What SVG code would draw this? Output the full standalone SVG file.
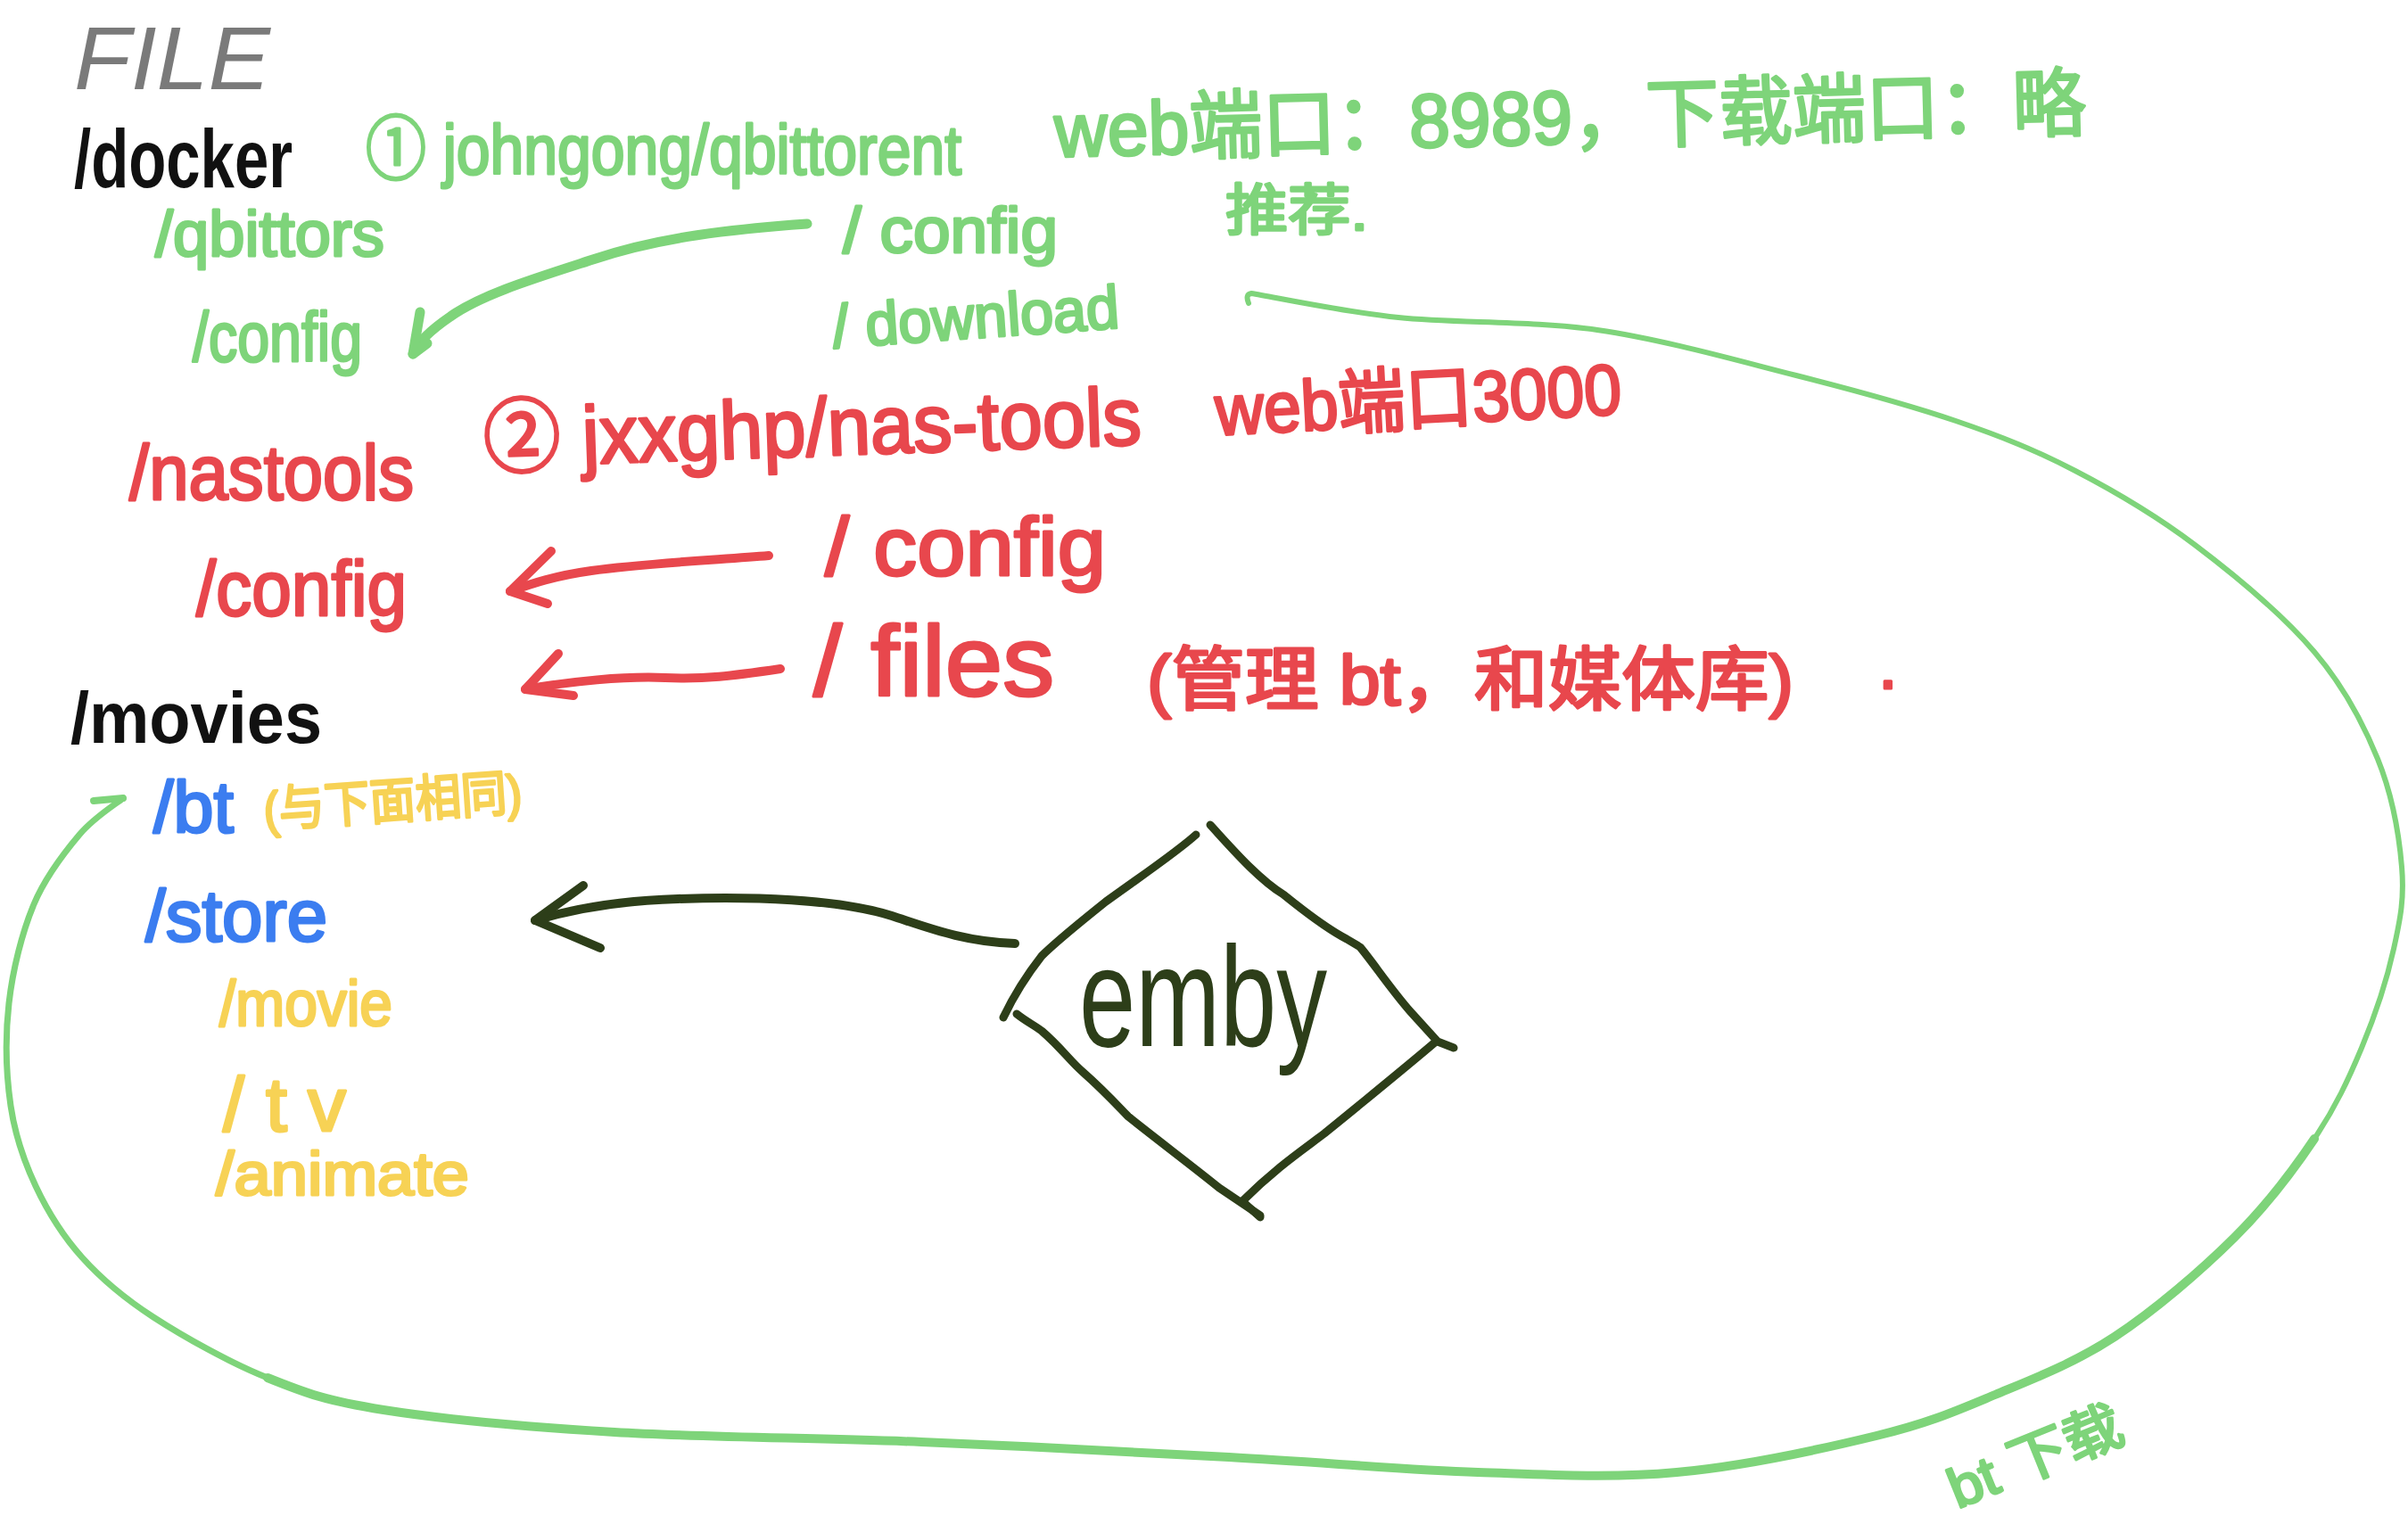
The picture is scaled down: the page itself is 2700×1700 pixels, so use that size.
<svg xmlns="http://www.w3.org/2000/svg" width="2700" height="1700" viewBox="0 0 2700 1700">
<style>
.t{font-family:"Liberation Sans","Noto Sans CJK SC",sans-serif;stroke-linejoin:round;paint-order:stroke;}
.g{fill:#7ed47a;stroke:#7ed47a;stroke-width:3}.r{fill:#e8474d;stroke:#e8474d;stroke-width:3}.k{fill:#111111}.b{fill:#3b7df0;stroke:#3b7df0;stroke-width:3}.y{fill:#f7d255;stroke:#f7d255;stroke-width:3}.gr{fill:#7a7a7a}.d{fill:#2d3e19}
.ln{fill:none;stroke-linecap:round;stroke-linejoin:round}
.lg{stroke:#7ed47a}.lr{stroke:#e8474d;stroke-width:10}.ld{stroke:#2d3e19}
.bold{font-weight:bold}
</style>
<rect width="2700" height="1700" fill="#ffffff"/>

<g id="title"><text class="t gr" x="83" y="100" font-size="100" textLength="220" lengthAdjust="spacingAndGlyphs" font-style="italic">FILE</text></g>
<g id="docker"><text class="t k bold" x="83" y="210" font-size="92" textLength="245" lengthAdjust="spacingAndGlyphs">/docker</text></g>
<g id="qbit-image"><text class="t g" x="410" y="195" font-size="78" textLength="668" lengthAdjust="spacingAndGlyphs">① johngong/qbittorent</text></g>
<g id="qbit-ports"><text class="t g" x="1183" y="176" font-size="85" textLength="1157" lengthAdjust="spacingAndGlyphs" transform="rotate(-1.5 1183 176)">web端口：8989，下载端口：略</text></g>
<g id="qbit-recommend"><text class="t g" x="1374" y="258" font-size="62" textLength="160" lengthAdjust="spacingAndGlyphs">推荐.</text></g>
<g id="qbittors"><text class="t g" x="174" y="287" font-size="72" textLength="257" lengthAdjust="spacingAndGlyphs">/qbittors</text></g>
<g id="qbittors-config"><text class="t g" x="216" y="405" font-size="78" textLength="190" lengthAdjust="spacingAndGlyphs">/config</text></g>
<g id="qbit-config"><text class="t g" x="945" y="283" font-size="72" textLength="241" lengthAdjust="spacingAndGlyphs">/ config</text></g>
<g id="qbit-download"><text class="t g" x="935" y="390" font-size="68" textLength="322" lengthAdjust="spacingAndGlyphs" transform="rotate(-4 935 390)">/ download</text></g>

<g id="nastools"><text class="t r" x="145" y="560" font-size="88" textLength="319" lengthAdjust="spacingAndGlyphs">/nastools</text></g>
<g id="nastools-image"><text class="t r" x="543" y="524" font-size="92" textLength="738" lengthAdjust="spacingAndGlyphs" transform="rotate(-2 543 524)">② jxxghp/nas-tools</text></g>
<g id="nastools-port"><text class="t r" x="1364" y="488" font-size="80" textLength="456" lengthAdjust="spacingAndGlyphs" transform="rotate(-3 1364 488)">web端口3000</text></g>
<g id="nas-config"><text class="t r" x="925" y="645" font-size="92" textLength="315" lengthAdjust="spacingAndGlyphs">/ config</text></g>
<g id="nastools-config"><text class="t r" x="220" y="690" font-size="88" textLength="236" lengthAdjust="spacingAndGlyphs">/config</text></g>
<g id="nas-files"><text class="t r" x="912" y="780" font-size="112" textLength="270" lengthAdjust="spacingAndGlyphs">/ files</text></g>
<g id="files-note"><text class="t r" x="1286" y="790" font-size="78" textLength="725" lengthAdjust="spacingAndGlyphs">(管理 bt，和媒体库)</text><text class="t r" x="2106" y="772" font-size="78">.</text></g>

<g id="movies"><text class="t k bold" x="79" y="833" font-size="82" textLength="282" lengthAdjust="spacingAndGlyphs">/movies</text></g>
<g id="bt"><text class="t b" x="172" y="933" font-size="82" textLength="90" lengthAdjust="spacingAndGlyphs">/bt</text><text class="t y" x="297" y="928" font-size="56" textLength="290" lengthAdjust="spacingAndGlyphs" transform="rotate(-4 297 928)">(与下面相同)</text></g>
<g id="store"><text class="t b" x="163" y="1055" font-size="82" textLength="204" lengthAdjust="spacingAndGlyphs">/store</text></g>
<g id="movie"><text class="t y" x="246" y="1150" font-size="72" textLength="194" lengthAdjust="spacingAndGlyphs">/movie</text></g>
<g id="tv"><text class="t y" x="250" y="1268" font-size="86">/<tspan x="298">t</tspan><tspan x="345">v</tspan></text></g>
<g id="animate"><text class="t y" x="242" y="1340" font-size="68" textLength="284" lengthAdjust="spacingAndGlyphs">/animate</text></g>

<g id="emby">
<path class="ln ld" stroke-width="9" d="M1341,936 C1320,955 1290,975 1240,1011 C1210,1035 1185,1055 1168,1072 C1150,1095 1135,1120 1125,1141"/>
<path class="ln ld" stroke-width="9" d="M1357,925 C1380,950 1410,985 1439,1003 C1460,1020 1485,1040 1510,1053 L1525,1062 C1540,1080 1560,1110 1582,1135 L1612,1168 L1630,1175"/>
<path class="ln ld" stroke-width="9" d="M1610,1168 C1590,1185 1560,1210 1485,1271 C1460,1290 1430,1310 1393,1347 L1413,1365"/>
<path class="ln ld" stroke-width="9" d="M1140,1137 C1150,1145 1160,1150 1168,1156 C1190,1175 1200,1190 1214,1202 C1240,1225 1255,1242 1265,1252 C1300,1280 1340,1310 1367,1332 L1413,1363"/>
<text class="t d" x="1210" y="1173" font-size="160" textLength="278" lengthAdjust="spacingAndGlyphs">emby</text>
</g>

<g id="bt-download-label"><text class="t g" x="2195" y="1692" font-size="62" textLength="205" lengthAdjust="spacingAndGlyphs" transform="rotate(-22 2195 1692)">bt 下载</text></g>

<g id="connectors">
<path class="ln lg" stroke-width="11" d="M905,251 C820,257 740,266 668,290 C600,312 540,330 505,355 C480,372 468,385 463,397"/>
<path class="ln lg" stroke-width="11" d="M471,350 L463,397 L479,385"/>
<path class="ln lr" d="M862,623 C800,628 720,632 663,640 C620,646 595,655 572,663"/>
<path class="ln lr" d="M618,618 L572,663 L614,677"/>
<path class="ln lr" d="M875,750 C820,758 790,762 746,760 C700,758 640,764 589,773"/>
<path class="ln lr" d="M626,733 L589,773 L643,780"/>
<path class="ln ld" stroke-width="10" d="M1138,1058 C1080,1056 1040,1040 1000,1027 C940,1008 840,1005 760,1008 C690,1010 640,1020 600,1032"/>
<path class="ln ld" stroke-width="10" d="M654,993 L600,1032 L673,1063"/>
<path class="ln lg" stroke-width="7" d="M138,895 C129.8,901.8 105.7,916.2 89,936 C72.3,955.8 51.2,982.5 38,1014 C24.8,1045.5 14.3,1087.3 10,1125 C5.7,1162.7 7,1205.8 12,1240 C17,1274.2 26.7,1301.7 40,1330 C53.3,1358.3 70,1385.5 92,1410 C114,1434.5 137.3,1454.5 172,1477 C206.7,1499.5 257,1527.7 300,1545"/>
<path class="ln lg" stroke-width="10" d="M300,1545 C343,1562.3 365.2,1570.8 430,1581 C494.8,1591.2 588.5,1600 689,1606 C789.5,1612 918.2,1612.3 1033,1617 C1147.8,1621.7 1274,1628.3 1378,1634 C1482,1639.7 1573.3,1648.2 1657,1651 C1740.7,1653.8 1805.5,1657.8 1880,1651 C1954.5,1644.2 2044.5,1624.5 2104,1610 C2163.5,1595.5 2192.5,1582.5 2237,1564 C2281.5,1545.5 2326.3,1528.3 2371,1499 C2415.7,1469.7 2467.7,1425 2505,1388 C2542.3,1351 2571.2,1312.5 2595,1277"/>
<path class="ln lg" stroke-width="6" d="M2595,1277 C2618.8,1241.5 2633.2,1210.5 2648,1175 C2662.8,1139.5 2676.5,1097.8 2684,1064 C2691.5,1030.2 2696,1007.5 2693,972 C2690,936.5 2682.3,891.2 2666,851 C2649.7,810.8 2629.2,771 2595,731 C2560.8,691 2505.7,644.8 2461,611 C2416.3,577.2 2371.7,551.2 2327,528 C2282.3,504.8 2245.2,489.8 2193,472 C2140.8,454.2 2081,438 2014,421 C1947,404 1865.3,380.8 1791,370 C1716.7,359.2 1632.7,362.8 1568,356 C1503.3,349.2 1430.5,333.5 1403,329 Q1396,330 1400,340"/>
<path class="ln lg" stroke-width="8" d="M105,898 L138,895"/>
</g>
</svg>
